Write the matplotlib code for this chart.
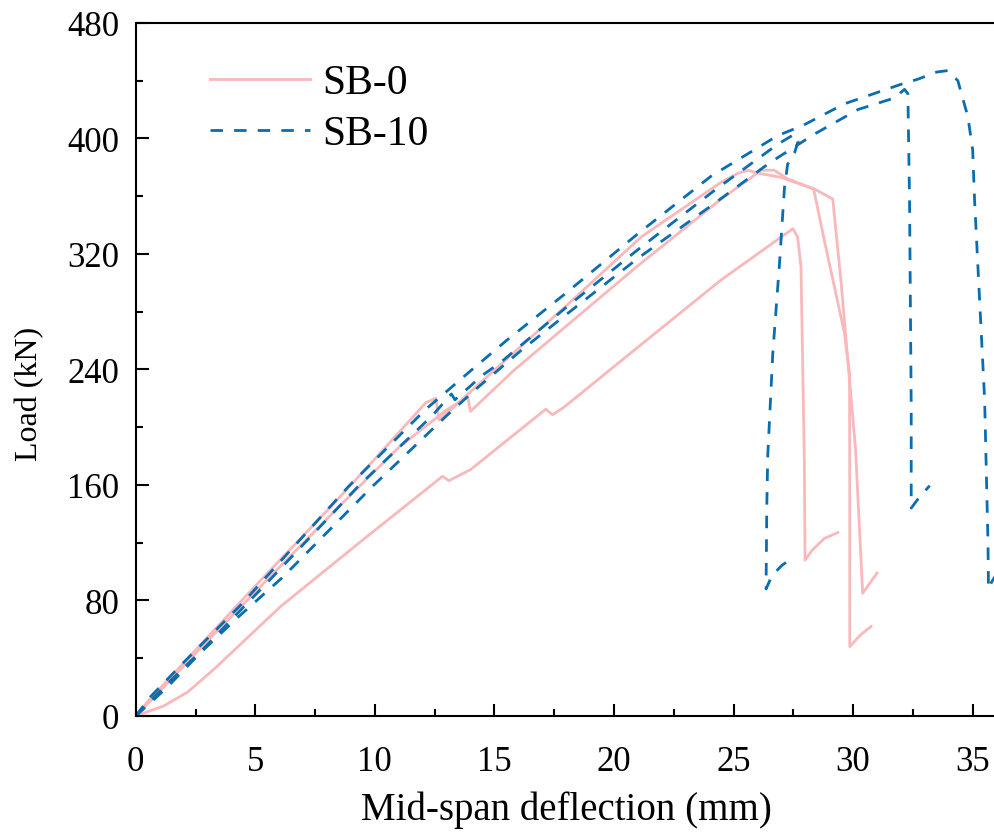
import numpy as np
import matplotlib
matplotlib.use('Agg')
from matplotlib import pyplot as plt

# SB-0 specimens (deflection mm, load kN)
sb0_a_x = [0, 1.18, 2.16, 3.28, 6.07, 9.5, 12.83, 13.1, 14.0, 17.15, 17.43, 17.92, 20.0, 24.48,
           27.48, 27.68, 27.82, 27.96, 27.99, 28.3, 28.8, 29.36]
sb0_a_y = [0, 7, 16.4, 32.5, 76, 122, 166, 163, 170.6, 212.5, 208.6, 214, 242, 302,
           337.5, 331.7, 311, 177.5, 108, 115, 123, 127]
sb0_b_x = [0, 0.5, 2.58, 5.0, 8.16, 10.0, 12.13, 12.55, 12.68, 13.3, 15.0, 18.0, 21.13, 23.36,
           24.48, 25.2, 25.6, 26.0, 27.0, 28.35, 28.8, 29.64, 29.85, 29.86, 29.86, 30.3, 30.75]
sb0_b_y = [0, 10, 47, 90, 145, 178, 217, 220, 205, 214, 239.6, 284, 331.7, 357,
           369.7, 376, 378, 376, 373, 365, 329, 265, 237, 150, 48, 56, 62]
sb0_c_x = [0, 1.0, 3.0, 5.0, 8.5, 11.0, 13.0, 13.88, 14.0, 15.83, 18.0, 20.99, 24.48, 25.5,
           26.15, 26.7, 27.26, 28.38, 29.15, 29.22, 29.5, 29.78, 30.1, 30.4, 30.7, 31.0]
sb0_c_y = [0, 17, 52, 86, 145, 186, 212, 221, 211, 239.6, 270, 311.7, 358, 370,
           378, 378, 372, 365, 358, 346, 300, 246, 185, 85, 92, 99]

# SB-10 specimens
sb10_d_x = [0, 1.3, 2.8, 5.65, 9.3, 12.4, 13.2, 13.35, 14.5, 15.27, 18.0, 21.0, 24.2, 26.85,
            27.55, 27.7, 27.55, 27.26, 27.13, 26.92, 26.64, 26.43, 26.39, 26.36, 26.6, 27.0, 27.33]
sb10_d_y = [0, 22, 46, 95, 159, 208, 223, 219, 236, 245, 283, 323, 364, 396,
            403, 398, 390, 382, 366, 313, 251, 180, 145, 88, 97, 104, 108]
sb10_e_x = [0, 1.26, 2.72, 4.25, 6.14, 9.9, 13.0, 14.2, 16.1, 18.0, 21.0, 24.2, 26.5, 28.38,
            30.2, 31.72, 32.15, 32.29, 32.36, 32.43, 32.43, 32.7, 33.2]
sb10_e_y = [0, 19, 44, 68, 96, 159, 208, 226, 253, 278, 317, 355, 383, 403,
            420, 428, 434, 431, 357, 213, 144, 150, 159.5]
sb10_f_x = [0, 0.6, 2.0, 4.4, 8.9, 12.1, 14.0, 15.5, 18.0, 21.0, 24.07, 26.85, 27.9, 29.64,
            32.0, 32.7, 33.5, 33.96, 34.38, 34.8, 35.0, 35.08, 35.5, 35.64, 35.66, 35.8, 35.95]
sb10_f_y = [0, 13, 37, 77, 159, 212, 239, 260, 293, 334, 374, 402, 409, 424,
            437.5, 441, 446, 447, 440, 415, 392, 357, 219, 120, 88, 93, 97]

pink = '#F9B8BA'
blue = '#0A6DB0'

plt.rcParams['font.family'] = ['Liberation Serif', 'DejaVu Serif']

fig = plt.figure(figsize=(9.95, 8.37), dpi=100)
ax = fig.add_axes([0.1364, 0.1434, 0.8652, 0.828])

dash = (0, (4.5, 4))
lw = 2.0
ax.plot(sb0_a_x, sb0_a_y, color=pink, lw=lw, label='SB-0')
ax.plot(sb0_b_x, sb0_b_y, color=pink, lw=lw)
ax.plot(sb0_c_x, sb0_c_y, color=pink, lw=lw)
ax.plot(sb10_d_x, sb10_d_y, color=blue, lw=lw, ls=dash, label='SB-10')
ax.plot(sb10_e_x, sb10_e_y, color=blue, lw=lw, ls=dash)
ax.plot(sb10_f_x, sb10_f_y, color=blue, lw=lw, ls=dash)

ax.set_xlim(0, 36)
ax.set_ylim(0, 480)
ax.set_xticks(np.arange(0, 36, 5))
ax.set_xticks(np.arange(0, 36, 2.5), minor=True)
ax.set_yticks(np.arange(0, 481, 80))
ax.set_yticks(np.arange(0, 481, 40), minor=True)
ax.tick_params(which='both', direction='in', width=1.5, labelsize=25)
ax.tick_params(which='major', length=9)
ax.tick_params(which='minor', length=5)
ax.tick_params(axis='y', pad=12)
ax.tick_params(axis='x', pad=21)
for s in ax.spines.values():
    s.set_linewidth(1.5)

ax.set_xlabel('Mid-span deflection (mm)', fontsize=28, labelpad=9)
ax.set_ylabel('Load (kN)', fontsize=23, labelpad=12)
ax.yaxis.set_label_coords(-0.106, 0.466)

ax.legend(loc='upper left', bbox_to_anchor=(0.043, 0.995), frameon=False, fontsize=30,
          handlelength=2.4, handletextpad=0.3, labelspacing=0.3)

fig.savefig('out.png', dpi=100)
